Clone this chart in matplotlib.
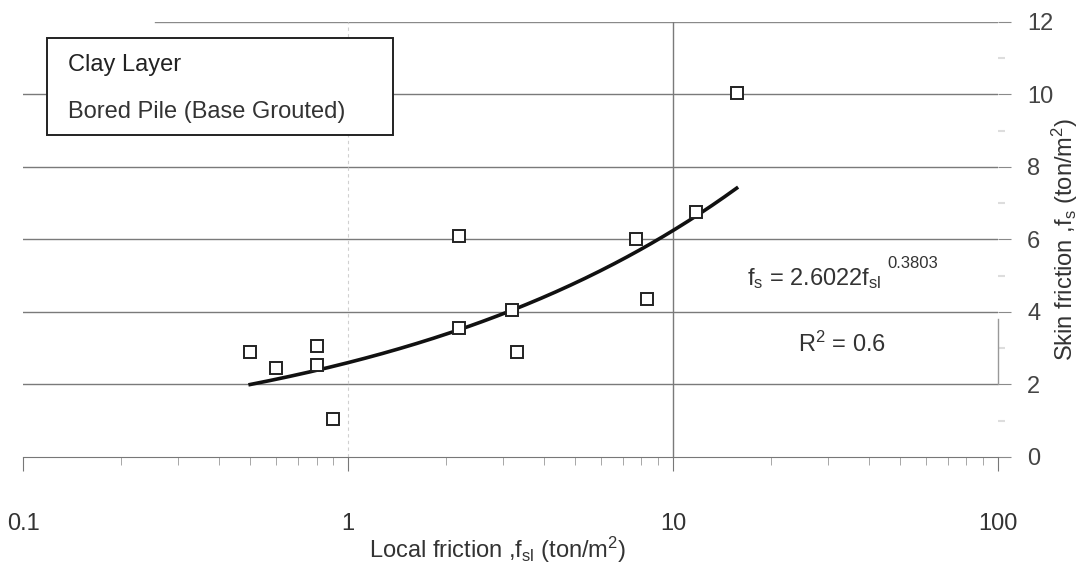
import matplotlib.pyplot as plt
import numpy as np
from matplotlib.patches import Rectangle

plt.rcParams["font.family"] = ["Liberation Sans", "DejaVu Sans"]
plt.rcParams["mathtext.fontset"] = "custom"
plt.rcParams["mathtext.rm"] = "Liberation Sans"
plt.rcParams["mathtext.it"] = "Liberation Sans"
plt.rcParams["mathtext.default"] = "regular"

# measured local friction vs skin friction (ton/m2), clay layer
f_sl = [0.50, 0.60, 0.80, 0.80, 0.90, 2.2, 2.2, 3.2, 3.3, 7.7, 8.3, 11.8, 15.7]
f_s = [2.9, 2.45, 3.05, 2.55, 1.05, 6.1, 3.55, 4.05, 2.9, 6.0, 4.35, 6.75, 10.05]

# power-law trend from the regression
coef_a = 2.6022
coef_b = 0.3803
r_sq = 0.6

x_ticks = [0.1, 1, 10, 100]
x_ticklabels = ["0.1", "1", "10", "100"]
y_ticks = [0, 2, 4, 6, 8, 10, 12]

fs = 17

fig = plt.figure(figsize=(10.85, 5.66), dpi=100)
ax = fig.add_axes([0.0212, 0.1926, 0.8986, 0.7686])

ax.set_xscale("log")
ax.set_xlim(0.1, 100)
ax.set_ylim(0, 12)

# horizontal grid, the 12 line only drawn partly
for yv in y_ticks[1:-1]:
    ax.axhline(yv, color="#7a7a7a", lw=1.0, zorder=1)
ax.axhline(12, xmin=0.135, color="#8a8a8a", lw=1.0, zorder=1)
ax.axvline(10, color="#7a7a7a", lw=1.0, zorder=1)
ax.axvline(1, color="#d0d0d0", lw=0.8, ls=(0, (3, 3)), zorder=1)

# fitted curve
xf = np.logspace(np.log10(min(f_sl)), np.log10(max(f_sl)), 200)
ax.plot(xf, coef_a * xf ** coef_b, color="#111111", lw=2.6, zorder=3)

ax.plot(f_sl, f_s, ls="none", marker="s", markersize=9,
        markerfacecolor="white", markeredgecolor="#222222",
        markeredgewidth=1.4, zorder=4)

for side in ["top", "left", "right"]:
    ax.spines[side].set_visible(False)
ax.spines["bottom"].set_color("#777777")

ax.set_xticks(x_ticks)
ax.set_xticklabels(x_ticklabels)
ax.tick_params(axis="x", which="major", length=10, color="#777777",
               labelsize=fs, labelcolor="#333333", pad=30)
ax.tick_params(axis="x", which="minor", length=6, color="#999999")

ax.yaxis.tick_right()
ax.set_yticks(y_ticks)
ax.set_yticks([1, 3, 5, 7, 9, 11], minor=True)
ax.tick_params(axis="y", which="major", length=9, color="#8a8a8a",
               labelsize=fs, labelcolor="#444444", pad=12)
ax.tick_params(axis="y", which="minor", length=5, color="#dddddd", width=1.5)

ax.yaxis.set_label_position("right")
ax.set_ylabel("Skin friction ,f$_s$ (ton/m$^2$)", fontsize=fs,
              color="#333333")
ax.yaxis.set_label_coords(1.0687, 0.5)
ax.yaxis.label.set_va("center")
ax.set_xlabel("Local friction ,f$_{sl}$ (ton/m$^2$)", fontsize=fs,
              color="#333333")
ax.xaxis.set_label_coords(0.487, -0.18)

# label box
ax.add_patch(Rectangle((0.0246, 0.740), 0.3549, 0.223, transform=ax.transAxes,
                       facecolor="white", edgecolor="#222222", lw=1.4,
                       zorder=5))
ax.text(0.0462, 0.901, "Clay Layer", transform=ax.transAxes, fontsize=fs,
        color="#222222", va="center", ha="left", zorder=6)
ax.text(0.0462, 0.793, "Bored Pile (Base Grouted)", transform=ax.transAxes,
        fontsize=fs, color="#333333", va="center", ha="left", zorder=6)

# regression equation, exponent set apart as in a spreadsheet trendline label
ax.text(0.7426, 0.395, f"f$_s$ = {coef_a:.4f}f$_{{sl}}$",
        transform=ax.transAxes, fontsize=fs, color="#333333", va="baseline")
ax.text(0.8867, 0.434, f"{coef_b:.4f}", transform=ax.transAxes,
        fontsize=12, color="#333333", va="baseline")
ax.text(0.795, 0.241, f"R$^2$ = {r_sq}", transform=ax.transAxes,
        fontsize=fs, color="#333333", va="baseline")
ax.plot([1.0, 1.0], [2, 3.8], transform=ax.get_yaxis_transform(),
        color="#999999", lw=1.0, clip_on=False)

fig.savefig("out.png", dpi=100)
